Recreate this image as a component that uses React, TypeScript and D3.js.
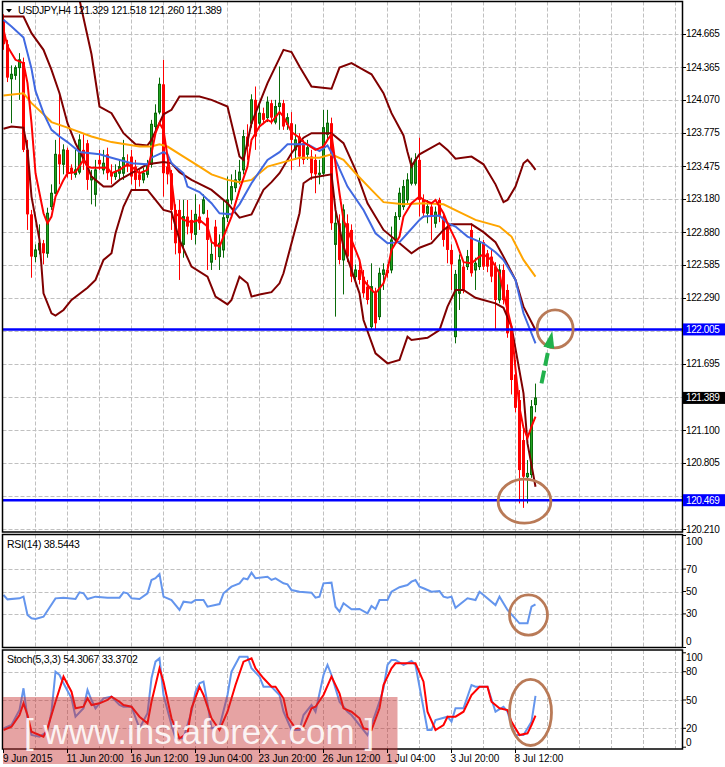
import React from "react";
import * as d3 from "d3";

const W = 725;
const H = 767;

// ---------------- DATA ----------------
// H4 bars, index 0 = first visible bar (9 Jun 2015)
const barOpen = [
  124.79, 124.57, 124.26, 124.29, 124.36, 124.41, 123.62, 123.04, 122.66, 122.72,
  122.78, 122.69, 123.11, 123.23, 123.58, 123.49, 123.62, 123.46, 123.40, 123.42,
  123.62, 123.68, 123.35, 123.22, 123.53, 123.44, 123.58, 123.42, 123.38, 123.41,
  123.41, 123.50, 123.56, 123.47, 123.40, 123.35, 123.40, 123.49, 123.83, 123.96,
  124.21, 123.47, 123.41, 123.08, 123.08, 122.77, 123.02, 122.99, 122.86, 123.02,
  123.05, 123.01, 122.61, 122.93, 122.66, 122.72, 123.01, 123.17, 123.28, 123.35,
  123.44, 123.74, 123.86, 124.07, 123.86, 123.95, 123.91, 124.04, 123.87, 124.01,
  124.04, 123.85, 123.86, 123.62, 123.74, 123.68, 123.58, 123.56, 123.53, 123.40,
  123.41, 123.76, 123.86, 122.77, 122.96, 122.63, 122.96, 122.90, 122.48, 122.54,
  122.48, 122.39, 122.03, 122.33, 122.12, 122.50, 122.54, 122.54, 122.81, 123.02,
  123.11, 123.17, 123.32, 123.32, 123.53, 123.17, 123.05, 123.11, 122.96, 123.17,
  123.02, 122.93, 122.72, 121.94, 122.33, 122.57, 122.57, 122.90, 122.54, 122.57,
  122.79, 122.69, 122.66, 122.57, 122.27, 122.54, 122.36, 122.00, 121.60, 121.37,
  121.01, 120.68, 120.70, 121.329,
];
const barHigh = [
  124.84, 124.61, 124.38, 124.38, 124.49, 124.45, 123.71, 123.08, 122.77, 122.95,
  122.81, 123.10, 123.31, 123.71, 124.12, 123.67, 123.64, 123.49, 123.62, 123.76,
  123.76, 123.71, 123.44, 123.53, 123.62, 123.62, 123.64, 123.49, 123.49, 123.53,
  123.71, 123.58, 123.62, 123.53, 123.44, 123.46, 123.53, 123.89, 124.03, 124.27,
  124.43, 123.53, 123.44, 123.13, 123.17, 123.17, 123.17, 123.08, 123.22, 123.13,
  123.22, 123.08, 122.81, 122.99, 122.86, 123.17, 123.38, 123.40, 123.44, 123.53,
  123.80, 123.85, 124.12, 124.19, 124.03, 124.00, 124.10, 124.07, 124.07, 124.37,
  124.07, 123.95, 123.96, 123.85, 123.77, 123.71, 123.71, 123.62, 123.58, 123.53,
  123.98, 123.98, 123.91, 123.11, 123.04, 123.13, 123.04, 122.95, 122.59, 122.61,
  122.54, 122.45, 122.60, 122.38, 122.56, 122.60, 122.59, 122.93, 123.06, 123.28,
  123.35, 123.41, 123.55, 123.59, 123.73, 123.22, 123.17, 123.14, 123.11, 123.19,
  123.06, 122.97, 122.77, 122.54, 122.68, 122.61, 122.72, 122.96, 122.65, 122.83,
  122.81, 122.72, 122.72, 122.61, 122.59, 122.59, 122.41, 122.04, 121.73, 121.46,
  121.13, 120.83, 121.37, 121.518,
];
const barLow = [
  124.52, 124.23, 123.86, 124.25, 124.07, 123.60, 122.90, 122.47, 122.61, 122.68,
  122.59, 122.65, 123.08, 123.22, 123.31, 123.40, 123.37, 123.35, 123.37, 123.40,
  123.44, 123.26, 123.13, 123.11, 123.44, 123.40, 123.35, 123.31, 123.35, 123.35,
  123.35, 123.42, 123.31, 123.26, 123.29, 123.32, 123.37, 123.46, 123.80, 123.94,
  123.20, 123.31, 122.90, 122.68, 122.45, 122.65, 122.86, 122.81, 122.77, 122.90,
  123.04, 122.54, 122.54, 122.63, 122.54, 122.65, 122.97, 123.13, 123.24, 123.31,
  123.40, 123.53, 123.82, 123.62, 123.82, 123.85, 123.87, 123.85, 123.85, 123.80,
  123.80, 123.80, 123.44, 123.53, 123.47, 123.49, 123.53, 123.35, 123.23, 123.31,
  123.38, 123.71, 122.90, 122.12, 122.59, 122.32, 122.61, 122.43, 122.43, 122.41,
  122.29, 122.23, 122.00, 122.00, 122.09, 122.36, 122.47, 122.51, 122.78, 122.99,
  123.08, 123.14, 123.30, 123.30, 123.02, 123.01, 122.96, 122.81, 122.92, 122.97,
  122.75, 122.60, 122.36, 121.88, 122.18, 122.33, 122.54, 122.48, 122.36, 122.54,
  122.54, 122.52, 122.43, 122.00, 122.24, 122.23, 121.93, 121.42, 121.26, 120.44,
  120.40, 120.44, 120.67, 121.260,
];
const barClose = [
  124.57, 124.27, 124.30, 124.36, 124.43, 123.62, 123.04, 122.66, 122.72, 122.78,
  122.69, 123.05, 123.23, 123.58, 123.49, 123.62, 123.41, 123.41, 123.44, 123.71,
  123.53, 123.35, 123.38, 123.44, 123.49, 123.50, 123.41, 123.38, 123.42, 123.47,
  123.55, 123.47, 123.38, 123.35, 123.35, 123.41, 123.47, 123.85, 123.95, 124.21,
  123.41, 123.40, 123.08, 122.78, 122.69, 123.02, 122.93, 122.87, 123.04, 122.96,
  123.17, 122.81, 122.68, 122.75, 122.78, 123.01, 123.17, 123.29, 123.35, 123.42,
  123.74, 123.65, 124.07, 123.74, 123.95, 123.89, 124.05, 123.91, 124.01, 124.04,
  123.83, 123.91, 123.71, 123.71, 123.56, 123.53, 123.64, 123.41, 123.40, 123.41,
  123.82, 123.86, 122.96, 122.96, 122.63, 123.08, 122.66, 122.48, 122.54, 122.45,
  122.33, 122.27, 122.39, 122.06, 122.51, 122.54, 122.51, 122.81, 123.02, 123.23,
  123.29, 123.35, 123.50, 123.53, 123.17, 123.05, 123.11, 123.02, 123.06, 123.02,
  122.81, 122.72, 122.59, 122.50, 122.63, 122.36, 122.66, 122.51, 122.60, 122.79,
  122.57, 122.57, 122.48, 122.27, 122.54, 122.27, 121.97, 121.55, 121.30, 120.74,
  120.68, 120.71, 121.31, 121.389,
];

// indicator lines: [bar index, value]
const bbUpper: [number, number][] = [
  [0, 126.0], [12, 125.6], [17, 125.1], [19, 124.97], [22, 124.48], [24, 124.01], [27, 123.95],
  [30, 123.77], [33, 123.67], [36, 123.66], [37, 123.71], [40, 123.94], [42, 123.98], [44, 124.1],
  [49, 124.1], [52, 124.07], [56, 124.01], [57, 123.86], [59, 123.56], [60, 123.53], [62, 123.86],
  [66, 124.22], [70, 124.52], [72, 124.5], [74, 124.37], [77, 124.19], [82, 124.17], [84, 124.36],
  [87, 124.4], [90, 124.34], [92, 124.3], [95, 124.13], [97, 123.95], [100, 123.75], [101, 123.6],
  [102, 123.47], [103, 123.53], [104, 123.58], [109, 123.68], [111, 123.62], [113, 123.54],
  [117, 123.56], [120, 123.49], [123, 123.31], [125, 123.15], [126, 123.17], [128, 123.29],
  [130, 123.5], [131, 123.53], [132, 123.49], [133, 123.44],
];
const bbMiddle: [number, number][] = [
  [0, 124.82], [5, 124.82], [7, 124.67], [10, 124.52], [12, 124.34], [14, 124.13], [16, 123.86],
  [18, 123.68], [21, 123.47], [22, 123.38], [25, 123.29], [27, 123.29], [29, 123.35], [32, 123.41],
  [36, 123.49], [40, 123.51], [42, 123.5], [44, 123.42], [47, 123.35], [52, 123.26], [56, 123.14],
  [59, 123.01], [62, 123.04], [65, 123.26], [67, 123.33], [69, 123.41], [72, 123.59], [75, 123.73],
  [77, 123.77], [82, 123.77], [85, 123.68], [88, 123.44], [91, 123.14], [95, 122.9], [99, 122.78],
  [102, 122.69], [104, 122.74], [107, 122.78], [110, 122.9], [112, 122.95], [117, 122.95],
  [120, 122.88], [123, 122.79], [125, 122.66], [128, 122.45], [130, 122.21], [133, 122.0],
];
const bbLower: [number, number][] = [
  [0, 123.81], [2, 123.83], [5, 123.82], [6, 123.62], [7, 123.2], [9, 122.81], [10, 122.33],
  [12, 122.15], [13, 122.13], [15, 122.18], [17, 122.27], [21, 122.38], [23, 122.45], [25, 122.63],
  [27, 122.69], [28, 122.87], [30, 123.11], [32, 123.26], [36, 123.26], [38, 123.17], [40, 123.08],
  [42, 123.06], [44, 122.81], [47, 122.57], [51, 122.48], [53, 122.3], [56, 122.23], [57, 122.27],
  [59, 122.48], [61, 122.42], [62, 122.3], [64, 122.32], [67, 122.34], [69, 122.42], [70, 122.51],
  [74, 123.05], [75, 123.32], [77, 123.37], [82, 123.4], [83, 123.08], [85, 122.75], [89, 122.33],
  [90, 122.09], [93, 121.79], [96, 121.7], [99, 121.73], [101, 121.94], [102, 121.91], [106, 121.93],
  [109, 122.0], [111, 122.21], [113, 122.36], [115, 122.36], [118, 122.29], [123, 122.24],
  [125, 122.2], [127, 122.03], [130, 121.43], [131, 120.98], [133, 120.59],
];
const maBlue: [number, number][] = [
  [0, 124.79], [2, 124.73], [5, 124.63], [7, 124.35], [8, 124.15], [10, 123.95], [12, 123.8],
  [14, 123.74], [16, 123.69], [19, 123.6], [24, 123.58], [27, 123.55], [32, 123.5], [36, 123.49],
  [37, 123.55], [40, 123.6], [41, 123.58], [42, 123.5], [45, 123.41], [46, 123.29], [49, 123.24],
  [52, 123.14], [54, 123.05], [57, 123.04], [59, 123.13], [62, 123.32], [66, 123.53], [69, 123.6],
  [71, 123.67], [76, 123.67], [79, 123.61], [81, 123.66], [83, 123.53], [86, 123.29], [90, 123.08],
  [93, 122.87], [96, 122.78], [99, 122.79], [101, 122.87], [104, 122.99], [105, 123.02],
  [109, 123.03], [111, 122.96], [113, 122.93], [116, 122.84], [120, 122.78], [123, 122.7],
  [125, 122.63], [128, 122.45], [130, 122.15], [133, 121.88],
];
const maOrange: [number, number][] = [
  [0, 124.11], [5, 124.13], [7, 124.04], [10, 123.94], [12, 123.87], [16, 123.82], [22, 123.74],
  [27, 123.69], [34, 123.65], [37, 123.65], [39, 123.67], [41, 123.65], [45, 123.56], [49, 123.47],
  [52, 123.4], [56, 123.35], [59, 123.33], [62, 123.35], [64, 123.41], [66, 123.47], [70, 123.51],
  [74, 123.55], [79, 123.55], [82, 123.58], [85, 123.53], [88, 123.41], [92, 123.26], [95, 123.15],
  [100, 123.13], [105, 123.14], [110, 123.13], [114, 123.06], [118, 122.99], [124, 122.93],
  [127, 122.84], [130, 122.63], [133, 122.48],
];
const maRed: [number, number][] = [
  [0, 124.7], [1, 124.55], [3, 124.43], [5, 124.4], [6, 124.22], [7, 123.86], [8, 123.41], [10, 123.05],
  [11, 122.96], [12, 123.02], [13, 123.2], [15, 123.35], [16, 123.41], [18, 123.42], [20, 123.53],
  [21, 123.47], [22, 123.46], [26, 123.46], [27, 123.41], [29, 123.44], [31, 123.49], [32, 123.47],
  [34, 123.41], [36, 123.44], [37, 123.59], [38, 123.77], [39, 123.86], [40, 123.8], [41, 123.56],
  [42, 123.35], [43, 123.05], [45, 122.99], [47, 122.97], [49, 122.99], [51, 122.93], [52, 122.79],
  [54, 122.75], [55, 122.84], [57, 123.02], [59, 123.26], [61, 123.47], [62, 123.71], [64, 123.83],
  [66, 123.89], [67, 123.87], [69, 123.96], [70, 123.92], [72, 123.78], [74, 123.73], [75, 123.69],
  [78, 123.62], [80, 123.65], [81, 123.71], [82, 123.76], [84, 123.23], [85, 122.99], [87, 122.81],
  [89, 122.63], [90, 122.45], [92, 122.36], [93, 122.33], [95, 122.42], [96, 122.54], [97, 122.72],
  [99, 122.84], [100, 123.02], [102, 123.14], [104, 123.2], [105, 123.17], [107, 123.14],
  [108, 123.17], [110, 123.05], [111, 122.96], [113, 122.81], [115, 122.61], [117, 122.6],
  [119, 122.66], [120, 122.68], [122, 122.63], [124, 122.51], [125, 122.33], [127, 122.03],
  [128, 121.65], [129, 121.3], [130, 121.12], [131, 121.03], [132, 121.13], [133, 121.22],
];
const rsiValues: [number, number][] = [
  [0, 46.9], [1, 43.0], [4, 43.9], [5, 45.4], [6, 29.0], [7, 26.1], [8, 25.4], [10, 27.5], [13, 43.9],
  [15, 44.5], [18, 43.3], [19, 49.3], [20, 48.4], [21, 43.3], [23, 45.4], [26, 44.5], [29, 44.5],
  [30, 49.3], [31, 48.4], [32, 43.9], [34, 43.3], [36, 48.4], [37, 60.3], [38, 61.8], [39, 65.6],
  [40, 45.4], [42, 42.4], [44, 33.5], [45, 40.9], [47, 40.0], [48, 42.4], [50, 42.4], [51, 36.4],
  [54, 38.8], [55, 48.4], [57, 54.3], [59, 57.3], [60, 61.8], [61, 60.9], [62, 66.8], [63, 61.8],
  [66, 63.2], [67, 60.3], [68, 61.8], [70, 57.3], [71, 56.4], [72, 51.3], [74, 49.8], [77, 48.9],
  [78, 44.5], [79, 45.4], [80, 57.3], [82, 57.9], [83, 36.4], [84, 32.0], [85, 39.5], [87, 34.1],
  [89, 34.4], [91, 30.5], [92, 37.1], [93, 34.4], [94, 42.4], [96, 42.4], [97, 49.8], [99, 53.8],
  [101, 55.8], [102, 58.8], [103, 60.3], [104, 54.3], [105, 52.9], [107, 49.8], [109, 50.4],
  [110, 45.4], [111, 44.5], [112, 45.4], [113, 35.5], [116, 43.9], [118, 42.4], [119, 49.8],
  [120, 46.9], [123, 37.9], [124, 45.4], [126, 33.5], [129, 21.6], [131, 21.6], [132, 36.4],
  [133, 38.54],
];
const stochMain: [number, number][] = [
  [0, 20.0], [2, 23.5], [4, 39.4], [5, 62.4], [6, 30.6], [7, 12.9], [9, 11.1], [11, 16.4], [12, 37.6],
  [13, 80.0], [14, 76.5], [15, 67.7], [17, 51.8], [18, 32.3], [20, 41.2], [21, 60.6], [22, 50.0],
  [23, 41.2], [25, 51.8], [27, 53.5], [29, 44.7], [30, 42.9], [32, 42.9], [34, 20.0], [36, 35.9],
  [37, 73.0], [38, 90.6], [39, 94.2], [40, 55.3], [42, 23.5], [43, 9.4], [45, 9.4], [47, 37.6],
  [48, 58.8], [49, 67.7], [50, 69.4], [51, 46.5], [52, 20.0], [54, 21.7], [56, 55.3], [57, 80.0],
  [59, 95.9], [61, 95.9], [62, 83.6], [64, 74.7], [65, 64.1], [67, 64.1], [69, 55.3], [70, 37.6],
  [72, 18.2], [74, 18.2], [75, 34.1], [77, 44.7], [78, 37.6], [80, 76.5], [81, 87.1], [82, 76.5],
  [84, 48.2], [86, 37.6], [87, 34.1], [89, 23.5], [91, 12.9], [92, 23.5], [94, 48.2], [95, 62.4],
  [96, 87.1], [97, 92.4], [98, 92.4], [100, 87.1], [102, 91.3], [103, 87.1], [106, 18.2],
  [107, 18.2], [108, 28.8], [111, 32.3], [112, 27.0], [113, 41.2], [115, 41.2], [117, 65.9],
  [118, 64.1], [121, 64.1], [123, 37.6], [125, 42.9], [126, 37.6], [127, 23.5], [128, 12.9],
  [130, 12.9], [132, 27.0], [133, 54.31],
];
const stochSignal: [number, number][] = [
  [0, 18.2], [2, 21.7], [4, 34.1], [5, 46.5], [6, 34.1], [7, 16.4], [10, 11.1], [11, 20.0], [13, 48.2],
  [15, 74.7], [17, 58.8], [18, 41.2], [20, 42.9], [21, 51.8], [22, 44.7], [24, 46.5], [26, 50.0],
  [27, 53.5], [29, 48.2], [30, 44.7], [32, 42.9], [34, 32.3], [36, 25.3], [37, 48.2], [39, 83.6],
  [40, 69.4], [42, 30.6], [44, 9.4], [46, 14.7], [47, 41.2], [49, 64.1], [50, 55.3], [52, 30.6],
  [54, 18.2], [56, 37.6], [58, 65.9], [60, 90.6], [62, 94.2], [63, 83.6], [65, 73.0], [67, 64.1],
  [68, 64.1], [70, 51.8], [71, 32.3], [73, 20.0], [75, 21.7], [77, 41.2], [78, 42.9], [80, 55.3],
  [82, 74.7], [84, 57.1], [85, 41.2], [87, 37.6], [89, 30.6], [90, 20.0], [92, 18.2], [94, 41.2],
  [95, 65.9], [97, 83.6], [98, 88.9], [103, 88.9], [105, 69.4], [106, 37.6], [108, 18.2],
  [110, 23.5], [111, 32.3], [113, 32.3], [115, 37.6], [117, 55.3], [119, 64.1], [121, 64.1],
  [122, 48.2], [124, 41.2], [126, 39.4], [127, 27.0], [129, 12.9], [131, 14.7], [132, 23.5],
  [133, 33.37],
];

const priceTicks = [
  124.665, 124.365, 124.07, 123.775, 123.475, 123.18, 122.88, 122.585, 122.29, 121.995,
  121.695, 121.4, 121.1, 120.805, 120.505, 120.21,
];
const rsiTicks = [100, 70, 50, 30, 0];
const rsiGrid = [70, 50, 30];
const stochTicks = [100, 80, 50, 20, 0];
const stochGrid = [80, 50, 20];
const timeLabels = [
  "9 Jun 2015", "11 Jun 20:00", "16 Jun 12:00", "19 Jun 04:00", "23 Jun 20:00",
  "26 Jun 12:00", "1 Jul 04:00", "3 Jul 20:00", "8 Jul 12:00",
];
const timeLabelBars = [0, 16, 32, 48, 64, 80, 96, 112, 128];
const levelPrices = [122.005, 120.469];
const lastPrice = 121.389;
const titleText = "USDJPY,H4  121.329 121.518 121.260 121.389";
const rsiText = "RSI(14) 38.5443";
const stochText = "Stoch(5,3,3) 54.3067 33.3702";
const watermark = "[ www.instaforex.com ]";

// annotation marks in data units (bar, value)
const priceEllipses = [
  { bar: 137.9, value: 122.01, rb: 4.5, rv: 0.171 },
  { bar: 130.25, value: 120.46, rb: 6.6, rv: 0.198 },
];
const rsiEllipse = { bar: 131.25, value: 29.0, rb: 4.75, rv: 17.9 };
const stochEllipse = { bar: 131.75, value: 36.8, rb: 5.25, rv: 35 };
const arrowFrom = { bar: 134.5, value: 121.52 };
const arrowTo = { bar: 137.2, value: 121.99 };

// ---------------- LAYOUT ----------------
const LEFT = 2.5;
const AXIS_X = 682.5;
const MAIN_TOP = 1.5;
const MAIN_BOTTOM = 532;
const RSI_TOP = 534.5;
const RSI_BOTTOM = 647.5;
const ST_TOP = 650;
const ST_BOTTOM = 749;
const FONT = "'Liberation Sans', Arial, sans-serif";
const GRID = "#c0c0c0";
const BROWN = "#b97a57";

export default function App() {
  const x = d3.scaleLinear().domain([0, 133]).range([3.5, 535.5]);
  const yP = d3.scaleLinear().domain([120.21, 124.665]).range([529, 33.7]);
  const yR = d3.scaleLinear().domain([0, 100]).range([647.5, 535.5]);
  const yS = d3.scaleLinear().domain([0, 100]).range([747.2, 652.8]);

  const gridBars = d3.range(8, 169, 8);

  const lineP = d3.line<[number, number]>().x((d) => x(d[0])).y((d) => yP(d[1]));
  const lineR = d3.line<[number, number]>().x((d) => x(d[0])).y((d) => yR(d[1]));
  const lineS = d3.line<[number, number]>().x((d) => x(d[0])).y((d) => yS(d[1]));

  const bars = barOpen.map((o, i) => ({
    i,
    o,
    h: barHigh[i],
    l: barLow[i],
    c: barClose[i],
  }));

  // axis labels that the highlighted boxes would cover are not drawn
  const boxed = [...levelPrices, lastPrice];
  const visibleTicks = priceTicks.filter(
    (p) => boxed.every((b) => Math.abs(yP(p) - yP(b)) > 10)
  );

  const vGrid = (top: number, bottom: number) =>
    gridBars.map((b) => (
      <line key={"v" + b} x1={x(b)} x2={x(b)} y1={top} y2={bottom}
        stroke={GRID} strokeWidth={1} strokeDasharray="4,2" />
    ));

  const hLine = (y: number, key: string) => (
    <line key={key} x1={LEFT} x2={AXIS_X} y1={Math.round(y) + 0.5} y2={Math.round(y) + 0.5}
      stroke={GRID} strokeWidth={1} strokeDasharray="4,2" />
  );

  // arrow geometry
  const ax1 = x(arrowFrom.bar), ay1 = yP(arrowFrom.value);
  const ax2 = x(arrowTo.bar), ay2 = yP(arrowTo.value);
  const dx = ax2 - ax1, dy = ay2 - ay1;
  const len = Math.hypot(dx, dy);
  const ux = dx / len, uy = dy / len;
  const headLen = 17, headW = 5.5;
  const bx = ax2 - ux * headLen, by = ay2 - uy * headLen;
  const head = [
    [ax2, ay2],
    [bx - uy * headW, by + ux * headW],
    [bx + uy * headW, by - ux * headW],
  ];

  const clampLabel = (y: number, top: number, bottom: number) =>
    Math.max(top + 7, Math.min(bottom - 6.5, y));

  return (
    <svg width={W} height={H} style={{ display: "block", position: "absolute", left: 0, top: 0 }}
      fontFamily={FONT}>
      <defs>
        <clipPath id="clipMain"><rect x={3} y={2} width={AXIS_X - 3} height={MAIN_BOTTOM - 2} /></clipPath>
        <clipPath id="clipRsi"><rect x={3} y={RSI_TOP + 0.5} width={AXIS_X - 3} height={RSI_BOTTOM - RSI_TOP - 1} /></clipPath>
        <clipPath id="clipSt"><rect x={3} y={ST_TOP + 0.5} width={AXIS_X - 3} height={ST_BOTTOM - ST_TOP - 1} /></clipPath>
      </defs>
      <rect x={0} y={0} width={W} height={H} fill="#ffffff" />

      {/* ---------- MAIN PANEL ---------- */}
      <g clipPath="url(#clipMain)">
        {priceTicks.map((p, k) => hLine(yP(p), "hp" + k))}
        {vGrid(MAIN_TOP, MAIN_BOTTOM)}

        {bars.map((b) => {
          const cx = x(b.i);
          const up = b.c >= b.o;
          const top = yP(Math.max(b.o, b.c));
          const bot = yP(Math.min(b.o, b.c));
          const hgt = Math.max(1, bot - top);
          return (
            <g key={"c" + b.i}>
              <line x1={cx} x2={cx} y1={yP(b.h)} y2={yP(b.l)} stroke={up ? "#0a6a0a" : "#ff0000"} strokeWidth={1} />
              {up ? (
                <rect x={cx - 1} y={top} width={2} height={hgt} fill="#22a322" stroke="#0a6a0a" strokeWidth={1} />
              ) : (
                <rect x={cx - 1.5} y={top} width={3} height={hgt} fill="#ff0000" />
              )}
            </g>
          );
        })}

        <path d={lineP(bbUpper) ?? ""} fill="none" stroke="#800000" strokeWidth={2} />
        <path d={lineP(bbLower) ?? ""} fill="none" stroke="#800000" strokeWidth={2} />
        <path d={lineP(bbMiddle) ?? ""} fill="none" stroke="#800000" strokeWidth={2} />
        <path d={lineP(maOrange) ?? ""} fill="none" stroke="#ffa500" strokeWidth={2} />
        <path d={lineP(maBlue) ?? ""} fill="none" stroke="#4169e1" strokeWidth={2} />
        <path d={lineP(maRed) ?? ""} fill="none" stroke="#ff0000" strokeWidth={2} />

        {levelPrices.map((p, k) => (
          <line key={"lv" + k} x1={LEFT} x2={AXIS_X} y1={yP(p)} y2={yP(p)} stroke="#0000ff" strokeWidth={2.5} />
        ))}

        {priceEllipses.map((e, k) => (
          <ellipse key={"pe" + k} cx={x(e.bar)} cy={yP(e.value)}
            rx={x(e.bar + e.rb) - x(e.bar)} ry={yP(e.value - e.rv) - yP(e.value)}
            fill="none" stroke={BROWN} strokeWidth={2.8} />
        ))}
        <line x1={ax1} y1={ay1} x2={bx + ux * 2} y2={by + uy * 2} stroke="#22b14c" strokeWidth={4}
          strokeDasharray="13,5" />
        <polygon points={head.map((p) => p.join(",")).join(" ")} fill="#22b14c" />

        {/* title */}
        <polygon points="6,9 12,9 9,12.5" fill="#000000" />
        <text x={18} y={14} fontSize={10.5} fill="#000000" letterSpacing={-0.4}>{titleText}</text>
      </g>

      {/* ---------- RSI PANEL ---------- */}
      <g clipPath="url(#clipRsi)">
        {rsiGrid.map((v) => hLine(yR(v), "hr" + v))}
        {vGrid(RSI_TOP, RSI_BOTTOM)}
        <path d={lineR(rsiValues) ?? ""} fill="none" stroke="#6495ed" strokeWidth={2} />
        <ellipse cx={x(rsiEllipse.bar)} cy={yR(rsiEllipse.value)}
          rx={x(rsiEllipse.bar + rsiEllipse.rb) - x(rsiEllipse.bar)}
          ry={yR(rsiEllipse.value - rsiEllipse.rv) - yR(rsiEllipse.value)}
          fill="none" stroke={BROWN} strokeWidth={2.8} />
        <text x={7} y={548} fontSize={10.5} fill="#000000" letterSpacing={-0.3}>{rsiText}</text>
      </g>

      {/* ---------- STOCH PANEL ---------- */}
      <g clipPath="url(#clipSt)">
        {stochGrid.map((v) => hLine(yS(v), "hs" + v))}
        {vGrid(ST_TOP, ST_BOTTOM)}
        <path d={lineS(stochMain) ?? ""} fill="none" stroke="#6495ed" strokeWidth={2} />
        <path d={lineS(stochSignal) ?? ""} fill="none" stroke="#ff0000" strokeWidth={2} />
        <ellipse cx={x(stochEllipse.bar)} cy={yS(stochEllipse.value)}
          rx={x(stochEllipse.bar + stochEllipse.rb) - x(stochEllipse.bar)}
          ry={yS(stochEllipse.value - stochEllipse.rv) - yS(stochEllipse.value)}
          fill="none" stroke={BROWN} strokeWidth={2.8} />
        <text x={7} y={663} fontSize={10.5} fill="#000000" letterSpacing={-0.3}>{stochText}</text>
      </g>

      {/* ---------- borders ---------- */}
      <rect x={LEFT} y={MAIN_TOP} width={AXIS_X - LEFT} height={MAIN_BOTTOM - MAIN_TOP} fill="none" stroke="#000" strokeWidth={1.5} />
      <rect x={LEFT} y={RSI_TOP} width={AXIS_X - LEFT} height={RSI_BOTTOM - RSI_TOP} fill="none" stroke="#000" strokeWidth={1.5} />
      <rect x={LEFT} y={ST_TOP} width={AXIS_X - LEFT} height={ST_BOTTOM - ST_TOP} fill="none" stroke="#000" strokeWidth={1.5} />

      {/* ---------- right axis ---------- */}
      {priceTicks.map((p, k) => (
        <line key={"pt" + k} x1={AXIS_X} x2={AXIS_X + 3.5} y1={Math.round(yP(p)) + 0.5} y2={Math.round(yP(p)) + 0.5} stroke="#000" />
      ))}
      {visibleTicks.map((p, k) => (
        <text key={"pl" + k} x={686} y={yP(p) + 3.5} fontSize={10} fill="#000" letterSpacing={-0.4}>{p.toFixed(3)}</text>
      ))}
      {levelPrices.map((p, k) => (
        <g key={"lb" + k}>
          <rect x={AXIS_X + 0.5} y={yP(p) - 6} width={W - AXIS_X} height={12} fill="#0000ff" />
          <text x={686} y={yP(p) + 3.5} fontSize={10} fill="#ffffff" letterSpacing={-0.4}>{p.toFixed(3)}</text>
        </g>
      ))}
      <rect x={AXIS_X + 0.5} y={yP(lastPrice) - 6} width={W - AXIS_X} height={12} fill="#000000" />
      <text x={686} y={yP(lastPrice) + 3.5} fontSize={10} fill="#ffffff" letterSpacing={-0.4}>{lastPrice.toFixed(3)}</text>

      {rsiTicks.map((v) => (
        <g key={"rl" + v}>
          <line x1={AXIS_X} x2={AXIS_X + 3.5} y1={yR(v)} y2={yR(v)} stroke="#000" />
          <text x={686} y={clampLabel(yR(v), RSI_TOP, RSI_BOTTOM) + 3.5} fontSize={10} fill="#000">{v}</text>
        </g>
      ))}
      {stochTicks.map((v) => (
        <g key={"sl" + v}>
          <line x1={AXIS_X} x2={AXIS_X + 3.5} y1={yS(v)} y2={yS(v)} stroke="#000" />
          <text x={686} y={clampLabel(yS(v), ST_TOP, ST_BOTTOM) + 3.5} fontSize={10} fill="#000">{v}</text>
        </g>
      ))}

      {/* ---------- watermark ---------- */}
      <rect x={LEFT + 0.5} y={697} width={397 - LEFT} height={67} fill="rgba(200,50,50,0.45)" />
      <text x={24} y={744} fontSize={35} fill="#ffffff" fillOpacity={0.88}>{watermark}</text>

      {/* ---------- time axis ---------- */}
      {timeLabelBars.map((b, k) => (
        <g key={"tl" + k}>
          <line x1={x(b)} x2={x(b)} y1={ST_BOTTOM} y2={ST_BOTTOM + 4} stroke="#000" />
          <text x={k === 0 ? 3 : x(b) - 1} y={762} fontSize={10} fill="#000">{timeLabels[k]}</text>
        </g>
      ))}
    </svg>
  );
}
